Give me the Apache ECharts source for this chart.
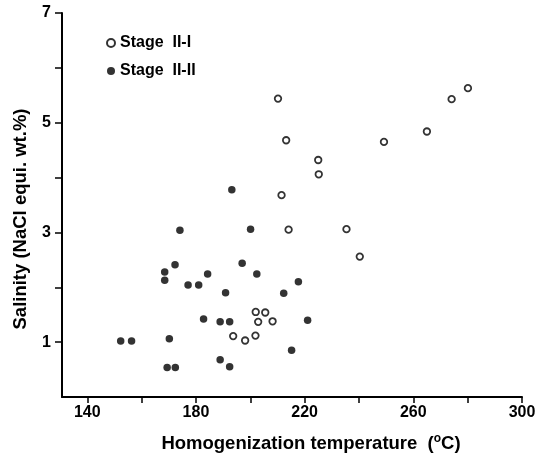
<!DOCTYPE html>
<html>
<head>
<meta charset="utf-8">
<script src="https://cdn.jsdelivr.net/npm/echarts@6/dist/echarts.min.js"></script>
<style>
  html, body { margin: 0; padding: 0; background: #fff; }
  #chart { width: 544px; height: 453px; }
</style>
</head>
<body>
<div id="chart"></div>
<script>
// Stage II-I (open circles): [temperature, salinity]
const stageII_I = [
  [210.2, 5.44], [213.2, 4.68], [211.5, 3.68], [214.1, 3.05],
  [280.1, 5.63], [274.1, 5.43], [265.0, 4.84], [249.2, 4.65],
  [225.0, 4.32], [225.2, 4.06], [235.4, 3.06], [240.3, 2.56],
  [202.0, 1.55], [205.5, 1.54], [202.9, 1.37], [208.2, 1.38],
  [193.7, 1.11], [198.1, 1.03], [201.9, 1.12]
];
// Stage II-II (filled circles)
const stageII_II = [
  [193.2, 3.78], [174.1, 3.04], [200.1, 3.06], [172.3, 2.41],
  [168.5, 2.28], [168.5, 2.13], [177.1, 2.04], [181.0, 2.04],
  [184.3, 2.24], [197.0, 2.44], [202.4, 2.24], [190.9, 1.90],
  [217.7, 2.10], [212.3, 1.89], [182.8, 1.42], [188.9, 1.37],
  [192.4, 1.37], [221.1, 1.40], [152.3, 1.02], [156.3, 1.02],
  [170.2, 1.06], [215.2, 0.85], [188.9, 0.68], [169.4, 0.54],
  [172.4, 0.54], [192.4, 0.55]
];
const xTicks = [140, 160, 180, 200, 220, 240, 260, 280, 300];
const xLabels = [140, 180, 220, 260, 300];
const yTicks = [1, 2, 3, 4, 5, 6, 7];
const yLabels = [1, 3, 5, 7];

const chart = echarts.init(document.getElementById('chart'));
const family = '"Liberation Sans", Arial, sans-serif';
const tickFont = { color: '#000', fontWeight: 'bold', fontSize: 16, fontFamily: family };
const nameFont = { color: '#000', fontWeight: 'bold', fontSize: 18.5, fontFamily: family };
const axisLine = { show: true, onZero: false, lineStyle: { color: '#000', width: 2 } };

chart.setOption({
  animation: false,
  backgroundColor: '#fff',
  grid: { left: 62, right: 22, top: 13, bottom: 56, outerBoundsMode: 'none' },
  legend: {
    orient: 'vertical',
    left: 101,
    top: 30,
    itemWidth: 8,
    itemHeight: 8,
    itemGap: 12,
    textStyle: { color: '#000', fontWeight: 'bold', fontSize: 16, fontFamily: family },
    data: ['Stage  II-I', 'Stage  II-II']
  },
  xAxis: {
    type: 'value',
    min: 130.7,
    max: 300,
    axisLine: axisLine,
    splitLine: { show: false },
    axisTick: { show: true, length: 6, customValues: xTicks, lineStyle: { color: '#000', width: 1.5 } },
    axisLabel: Object.assign({ customValues: xLabels, margin: 8 }, tickFont),
    name: 'Homogenization temperature  ({sup|o}C)',
    nameLocation: 'middle',
    nameGap: 36,
    nameTextStyle: Object.assign({}, nameFont, {
      padding: [0, 0, 0, 38],
      rich: { sup: { fontSize: 12, fontWeight: 'bold', color: '#000', fontFamily: family, padding: [0, 0, 9, 0] } }
    })
  },
  yAxis: {
    type: 'value',
    min: 0,
    max: 7,
    axisLine: axisLine,
    splitLine: { show: false },
    axisTick: { show: true, length: 7, customValues: yTicks, lineStyle: { color: '#000', width: 1.5 } },
    axisLabel: Object.assign({ customValues: yLabels, margin: 11 }, tickFont),
    name: 'Salinity (NaCl equi. wt.%)',
    nameLocation: 'middle',
    nameGap: 32,
    nameTextStyle: Object.assign({}, nameFont, { padding: [0, 28, 0, 0] })
  },
  series: [
    {
      name: 'Stage  II-I',
      type: 'scatter',
      data: stageII_I,
      symbol: 'circle',
      symbolSize: 6.5,
      itemStyle: { color: '#fff', borderColor: '#000', borderWidth: 1.8 }
    },
    {
      name: 'Stage  II-II',
      type: 'scatter',
      data: stageII_II,
      symbol: 'circle',
      symbolSize: 7.5,
      itemStyle: { color: '#000' }
    }
  ]
});
</script>
</body>
</html>
